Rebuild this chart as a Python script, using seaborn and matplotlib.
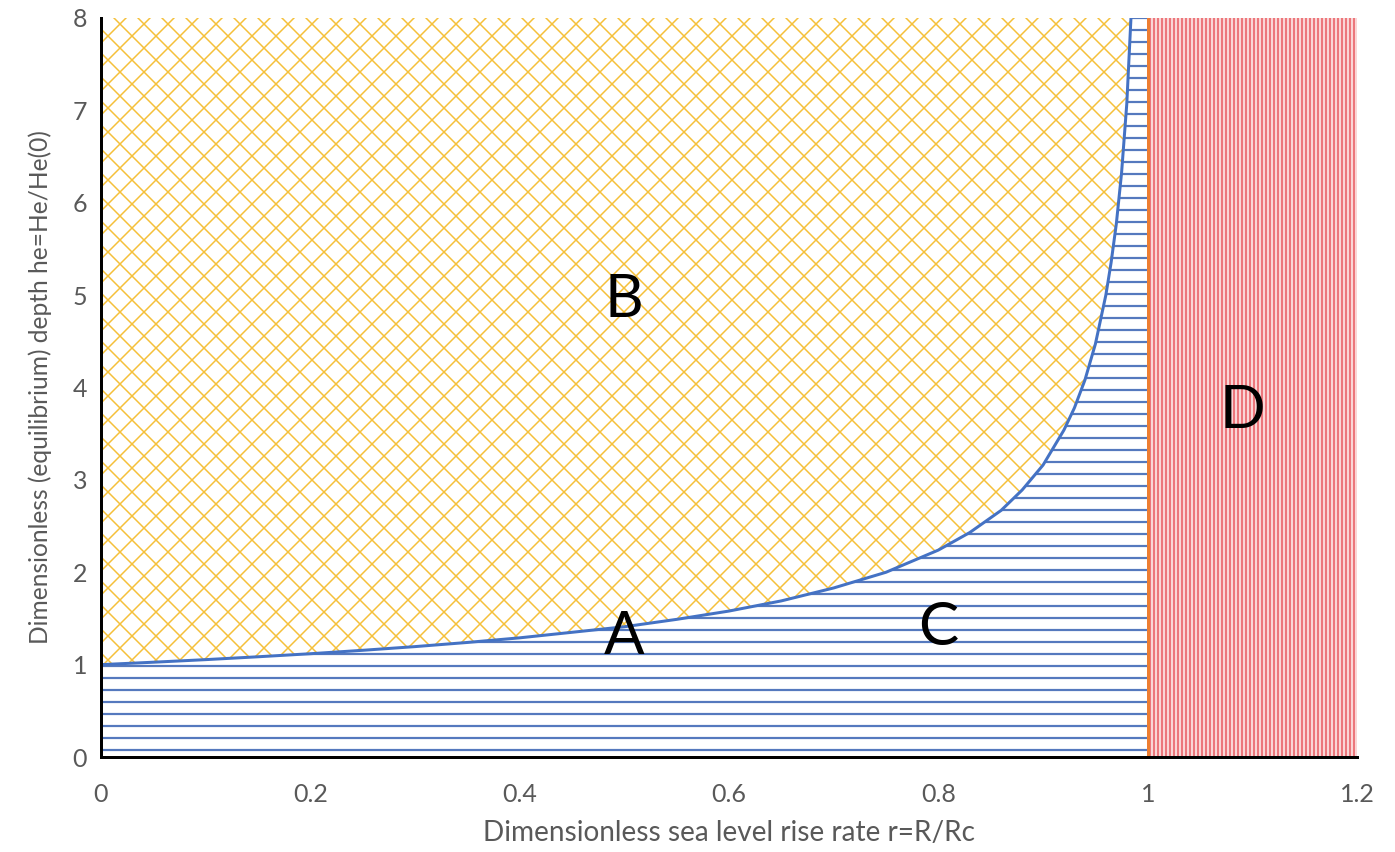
import matplotlib
matplotlib.use("Agg")
import matplotlib.pyplot as plt
import seaborn as sns
import numpy as np
import pandas as pd

# Equilibrium depth curve he(r), read along the boundary between regions
r_vals = [0.0, 0.05, 0.1, 0.15, 0.2, 0.25, 0.3, 0.35, 0.4, 0.45, 0.5, 0.55,
          0.6, 0.65, 0.7, 0.75, 0.8, 0.83, 0.86, 0.88, 0.9, 0.92, 0.93, 0.94,
          0.95, 0.96, 0.965, 0.97, 0.975, 0.98, 0.984]
he_vals = [1.0, 1.026, 1.054, 1.085, 1.118, 1.155, 1.195, 1.24, 1.29, 1.35,
           1.41, 1.49, 1.58, 1.69, 1.83, 2.0, 2.24, 2.43, 2.67, 2.89, 3.16,
           3.54, 3.78, 4.08, 4.47, 5.0, 5.35, 5.77, 6.32, 7.07, 8.0]

r_critical = 1.0
r_max = 1.2
he_max = 8.0

region_labels = ["A", "B", "C", "D"]
label_r = [0.5, 0.5, 0.8, 1.09]
label_he = [1.3, 4.95, 1.4, 3.75]

x_ticks = [0, 0.2, 0.4, 0.6, 0.8, 1, 1.2]
x_tick_labels = ["0", "0.2", "0.4", "0.6", "0.8", "1", "1.2"]
y_ticks = [0, 1, 2, 3, 4, 5, 6, 7, 8]

sns.set_style("white")
plt.rcParams["font.family"] = ["Lato", "DejaVu Sans"]

DPI = 72
fig = plt.figure(figsize=(1395 / DPI, 852 / DPI), dpi=DPI)
ax = fig.add_axes([0.0724, 0.1115, 0.9004, 0.8674])

df = pd.DataFrame({"r": r_vals, "he": he_vals})
r = np.array(r_vals)
he = np.array(he_vals)

# Region B: above the curve (cross-hatched gold)
with plt.rc_context({"hatch.linewidth": 1.5}):
    ax.fill_between(r, he, he_max, facecolor="white", edgecolor="#F5C03A",
                    hatch="x", linewidth=0, zorder=1)

# Region C: below the curve, extending to r = 1 (horizontal blue lines)
r_c = np.append(r, r_critical)
he_c = np.append(he, he_max)
with plt.rc_context({"hatch.linewidth": 2.2}):
    ax.fill_between(r_c, 0, he_c, facecolor="white", edgecolor="#5579BE",
                    hatch="-", linewidth=0, zorder=1)

# Region D: beyond the critical rise rate (red dotted columns)
with plt.rc_context({"hatch.linewidth": 1.3}):
    ax.fill_between([r_critical, r_max], 0, he_max, facecolor="#FAD6D6",
                    edgecolor="#E5444C", hatch="|||", linewidth=0, zorder=1)

# Boundary curve and critical rate line
sns.lineplot(data=df, x="r", y="he", ax=ax, color="#4472C4", linewidth=3,
             zorder=3, sort=False)
ax.axvline(r_critical, ymin=0, ymax=1, color="#ED7D31", linewidth=3, zorder=3)

for lab, lx, ly in zip(region_labels, label_r, label_he):
    ax.text(lx, ly, lab, fontsize=60, color="black", ha="center", va="center",
            zorder=4)

ax.set_xlim(0, r_max)
ax.set_ylim(0, he_max)
ax.set_xticks(x_ticks)
ax.set_xticklabels(x_tick_labels)
ax.set_yticks(y_ticks)

for side in ["top", "right"]:
    ax.spines[side].set_visible(False)
for side in ["left", "bottom"]:
    ax.spines[side].set_color("black")
    ax.spines[side].set_linewidth(3)
    ax.spines[side].set_zorder(5)

ax.tick_params(axis="both", direction="out", length=8, width=3, color="black",
               labelsize=25, labelcolor="#595959")
ax.tick_params(axis="x", pad=18)
ax.tick_params(axis="y", pad=6)

ax.set_xlabel("Dimensionless sea level rise rate r=R/Rc", fontsize=28,
              color="#595959", labelpad=14)
ax.set_ylabel("Dimensionless (equilibrium) depth he=He/He(0)", fontsize=24.5,
              color="#595959", labelpad=20)

fig.savefig("out.png", dpi=DPI)
